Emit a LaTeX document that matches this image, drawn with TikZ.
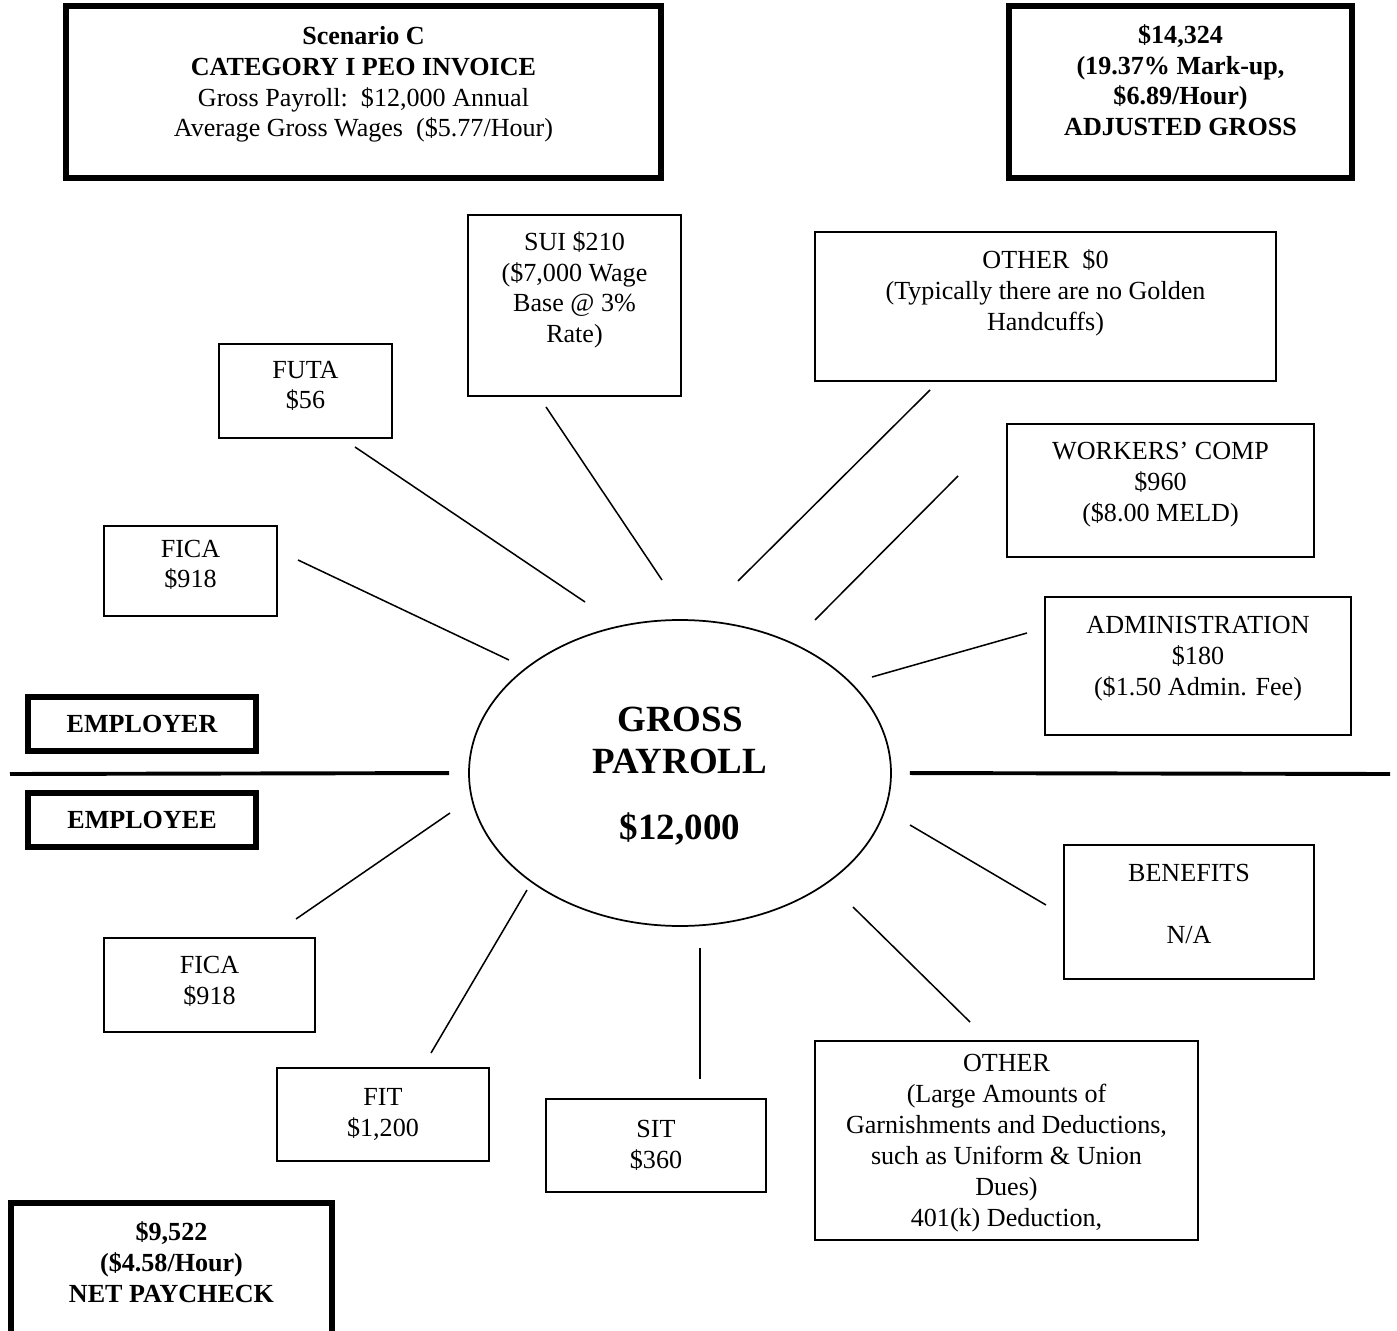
\documentclass[tikz,border=0pt]{standalone}
\usepackage{fontspec}
\setmainfont{Liberation Serif}
\usetikzlibrary{shapes.geometric}
\newcommand{\pu}{0.46pt}
\tikzset{
    pay box/.style={
        draw=black,
        line width=0.7pt,
        align=center,
        inner sep=2pt,
        font=\fontsize{12}{14.2}\selectfont
    },
    pay head/.style={pay box, line width=2.6pt, font=\fontsize{12}{14.2}\selectfont\bfseries},
    pay hub/.style={
        draw=black,
        ellipse,
        line width=0.8pt,
        inner sep=0pt,
        align=center,
        minimum width=422*\pu,
        minimum height=306*\pu,
        font=\fontsize{17}{19.4}\selectfont\bfseries
    },
    pay size/.style 2 args={minimum width=#1*\pu, minimum height=#2*\pu},
    pay lift/.style={text depth=#1},
    pay spoke/.style={draw=black, line width=0.7pt},
    pay rule/.style={draw=black, line width=1.8pt}
}

\begin{document}
\begin{tikzpicture}[x=\pu, y=-\pu]
\useasboundingbox (0,0) rectangle (1397,1331);

% invoice headings
\node[pay head, pay size={595}{172}, pay lift=9.6pt, font=\fontsize{12}{14.2}\selectfont] (invoice) at (363.5,92)
    {\textbf{Scenario C}\\\textbf{CATEGORY I PEO INVOICE}\\Gross Payroll:\ \ \$12,000 Annual\\Average Gross Wages\ \ (\$5.77/Hour)};
\node[pay head, pay size={343}{172}, pay lift=11pt] (adjusted) at (1180.5,92)
    {\$14,324\\(19.37\% Mark-up,\\\$6.89/Hour)\\ADJUSTED GROSS};

% center
\node[pay hub, pay lift=0pt] (hub) at (680,773) {GROSS\\PAYROLL\\[11pt]\$12,000};

% employer side
\node[pay box, pay size={213}{181}, pay lift=17pt] (sui) at (574.5,305.5) {SUI \$210\\(\$7,000 Wage\\Base @ 3\%\\Rate)};
\node[pay box, pay size={173}{94}, pay lift=5.6pt] (futa) at (305.5,391) {FUTA\\\$56};
\node[pay box, pay size={173}{90}, pay lift=6.6pt] (ficaer) at (190.5,571) {FICA\\\$918};
\node[pay box, pay size={461}{149}, pay lift=15pt] (otherer) at (1045.5,306.5) {OTHER\ \ \$0\\(Typically there are no Golden\\Handcuffs)};
\node[pay box, pay size={307}{133}, pay lift=7.8pt] (wcomp) at (1160.5,490.5) {WORKERS’ COMP\\\$960\\(\$8.00 MELD)};
\node[pay box, pay size={306}{138}, pay lift=9.6pt] (admin) at (1198,666) {ADMINISTRATION\\\$180\\(\$1.50 Admin. Fee)};
\node[pay head, pay size={228}{54}] (employer) at (142,724) {EMPLOYER};

% divider
\coordinate (rule-l) at (10,774);
\coordinate (rule-r) at (1390,774);
\draw[pay rule, shorten >=19*\pu] (rule-l) -- (hub.west);
\draw[pay rule, shorten >=18*\pu] (rule-r) -- (hub.east);

% employee side
\node[pay head, pay size={228}{54}] (employee) at (142,820) {EMPLOYEE};
\node[pay box, pay size={211}{94}, pay lift=4.6pt] (ficaee) at (209.5,985) {FICA\\\$918};
\node[pay box, pay size={212}{93}] (fit) at (383,1114.5) {FIT\\\$1,200};
\node[pay box, pay size={220}{93}] (sit) at (656,1145.5) {SIT\\\$360};
\node[pay box, pay size={383}{199}, pay lift=-3pt] (otheree) at (1006.5,1140.5)
    {OTHER\\(Large Amounts of\\Garnishments and Deductions,\\such as Uniform \& Union\\Dues)\\401(k) Deduction,};
\node[pay box, pay size={250}{134}, pay lift=7.6pt] (benefits) at (1189,912) {BENEFITS\\[14.2pt]N/A};
\node[pay head, pay size={321}{134}, pay lift=7.4pt] (net) at (171.5,1270) {\$9,522\\(\$4.58/Hour)\\NET PAYCHECK};

% spokes
\coordinate (s-futa) at (355,447);     \coordinate (h-futa) at (585,602);
\coordinate (s-sui) at (546,407);      \coordinate (h-sui) at (662,580);
\coordinate (s-otherer) at (930,390);  \coordinate (h-otherer) at (738,581);
\coordinate (s-wcomp) at (958,476);    \coordinate (h-wcomp) at (815,620);
\coordinate (s-admin) at (1027,633);   \coordinate (h-admin) at (872,677);
\coordinate (s-ficaer) at (298,560);   \coordinate (h-ficaer) at (509,660);
\coordinate (s-ficaee) at (296,919);   \coordinate (h-ficaee) at (450,813);
\coordinate (s-fit) at (431,1053);     \coordinate (h-fit) at (527,890);
\coordinate (s-sit) at (700,1079);     \coordinate (h-sit) at (700,948);
\coordinate (s-otheree) at (970,1022); \coordinate (h-otheree) at (853,907);
\coordinate (s-benefits) at (1046,905);\coordinate (h-benefits) at (910,825);
\foreach \s in {futa,sui,otherer,wcomp,admin,ficaer,ficaee,fit,sit,otheree,benefits}
    \draw[pay spoke] (s-\s) -- (h-\s);
\end{tikzpicture}
\end{document}
